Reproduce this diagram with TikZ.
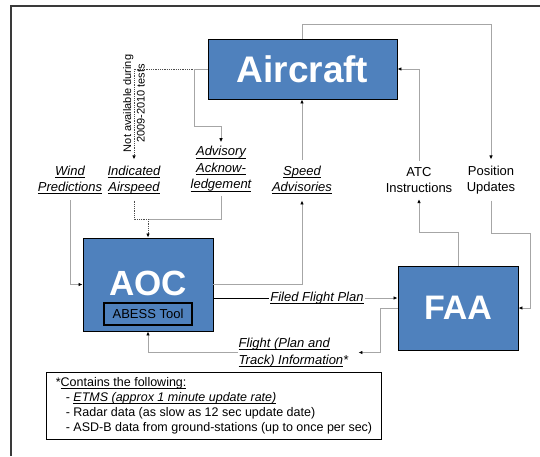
\documentclass[tikz,border=0pt]{standalone}
\usepackage{fontspec}
\setmainfont{Liberation Sans}
\usetikzlibrary{calc}
\usetikzlibrary{positioning}
\usetikzlibrary{arrows.meta}
\definecolor{boxblue}{HTML}{4F81BD}
\definecolor{linegray}{HTML}{A6A6A6}
\definecolor{framegray}{HTML}{3A3A3A}
\newcommand\ulab[1]{\setbox0\hbox{#1}\leavevmode\rlap{\rule[-2.6pt]{\wd0}{0.9pt}}\box0}
\tikzset{bigbox/.style={rectangle,draw=black,fill=boxblue,line width=0.9pt,inner sep=0pt,text=white}}
\tikzset{flowlabel/.style={align=center,font=\fontsize{13}{16.5}\selectfont\itshape,inner xsep=1pt,inner ysep=6pt}}
\tikzset{plainlabel/.style={align=center,font=\fontsize{13}{16.5}\selectfont,inner xsep=1pt,inner ysep=6pt}}
\tikzset{flow/.style={draw=linegray,line width=0.9pt,-{Latex[length=4pt,width=3.5pt,black]}}}
\tikzset{dotline/.style={draw=black!70,line width=0.8pt,densely dotted}}
\tikzset{dotflow/.style={dotline,-{Latex[length=4pt,width=3.5pt,black]}}}

\begin{document}
\begin{tikzpicture}[x=1pt,y=-1pt]
		\useasboundingbox (0,0) rectangle (540,456);
		\draw[framegray,line width=1.3pt] (11,456) -- (11,6) -- (540,6);
		\node[bigbox,minimum width=189pt,minimum height=60pt,font=\fontsize{37}{40}\selectfont\bfseries] (aircraft) at (302.5,69) {Aircraft};
		\node[bigbox,minimum width=130pt,minimum height=93pt] (aoc) at (148,284.5) {};
		\node[text=white,font=\fontsize{35}{38}\selectfont\bfseries,inner sep=0pt] (aoctext) at (148,283) {AOC};
		\node[draw=black,line width=1.1pt,minimum width=88pt,minimum height=22pt,inner sep=0pt,font=\fontsize{13}{14}\selectfont] (abess) at (148,314) {ABESS Tool};
		\node[bigbox,minimum width=120pt,minimum height=84pt,font=\fontsize{34}{40}\selectfont\bfseries] (faa) at (458,308) {FAA};
		\node[flowlabel] (wind) at (70,180) {\ulab{Wind}\\\ulab{Predictions}};
		\node[flowlabel] (indicated) at (134,180) {\ulab{Indicated}\\\ulab{Airspeed}};
		\node[flowlabel,inner ysep=4pt] (advisory) at (221,169) {\ulab{Advisory}\\\ulab{Acknow-}\\\ulab{ledgement}};
		\node[flowlabel] (speed) at (302,180) {\ulab{Speed}\\\ulab{Advisories}};
		\node[plainlabel] (atc) at (419,180) {ATC\\Instructions};
		\node[plainlabel] (posup) at (491,180) {Position\\Updates};
		\node[flowlabel,inner ysep=1pt] (filed) at (317,298) {\ulab{Filed Flight Plan}};
		\node[flowlabel,align=left,inner ysep=1pt] (flight) at (293.5,352.5) {\ulab{Flight (Plan and}\\\ulab{Track) Information}*};
		\node[draw=black,line width=1pt,anchor=north west,minimum width=335pt,minimum height=67pt,inner xsep=2pt,align=left,font=\fontsize{12.5}{15}\selectfont] (notes) at (46,372) {*\ulab{Contains the following:}\\
			\hspace*{10pt}- \ulab{\itshape ETMS (approx 1 minute update rate)}\\
			\hspace*{10pt}- Radar data (as slow as 12 sec update date)\\
			\hspace*{10pt}- ASD-B data from ground-stations (up to once per sec)};
		\draw[flow] (aircraft.north) -- ++(0,-14) -| (posup.north);
		\draw[flow] (posup.south) |- ($(faa.east)+(12,-75)$) |- (faa.east);
		\draw[flow] (faa.north) -- ++(0,-33) -| (atc.south);
		\draw[flow] (atc.north) |- (aircraft.east);
		\draw[flow] (aoc.east) -| (speed.south);
		\draw[flow] (speed.north) -- (speed.north |- aircraft.south);
		\draw[flow] (wind.south) |- (aoc.west);
		\draw[dotflow] (aircraft.west) -| node[pos=0.69,rotate=90,align=center,font=\fontsize{11}{13.5}\selectfont,inner sep=0pt] (notavail) {Not available during\\2009-2010 tests} (indicated.north);
		\coordinate (split) at ($(aircraft.west)+(-13,0)$);
		\draw[flow] (aircraft.west) -- (split) -- ++(0,57) -| (advisory.north);
		\coordinate (merge) at (148,219);
		\draw[flow,-] (advisory.south) |- (merge);
		\draw[dotline] (indicated.south) |- (merge);
		\draw[dotflow] (merge) -- (aoc.north);
		\draw[line width=0.9pt] (aoc.east |- filed.west) -- (filed.west);
		\draw[flow] (filed.east) -- (filed.east -| faa.west);
		\draw[flow,shorten >=9pt] (faa.west) -- ++(-17,0) |- (flight.east);
		\draw[flow] (flight.west) -| (aoc.south);
	\end{tikzpicture}
\end{document}
